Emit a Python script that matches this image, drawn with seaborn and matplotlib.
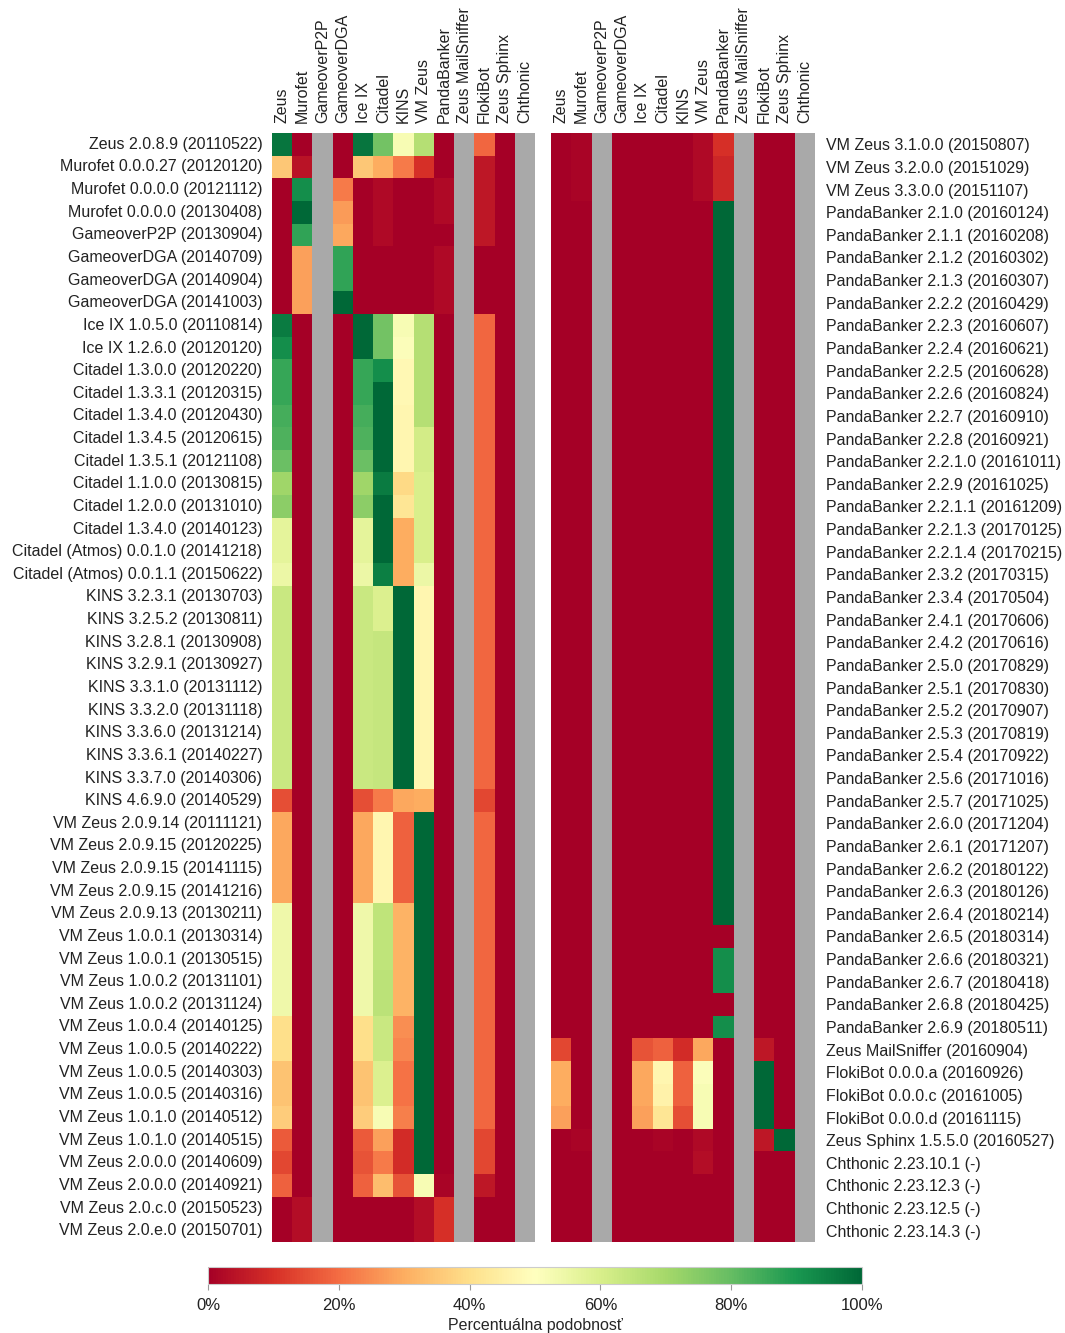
import numpy as np
import pandas as pd
import matplotlib
matplotlib.use("Agg")
import matplotlib.pyplot as plt
import seaborn as sns

sns.set_theme(style="white")
plt.rcParams["font.family"] = ["Liberation Sans", "DejaVu Sans"]
plt.rcParams["text.color"] = "#222222"
plt.rcParams["xtick.color"] = "#222222"
plt.rcParams["ytick.color"] = "#222222"

N = np.nan

families = ["Zeus", "Murofet", "GameoverP2P", "GameoverDGA", "Ice IX", "Citadel",
            "KINS", "VM Zeus", "PandaBanker", "Zeus MailSniffer", "FlokiBot",
            "Zeus Sphinx", "Chthonic"]

left_samples = [
    "Zeus 2.0.8.9 (20110522)", "Murofet 0.0.0.27 (20120120)", "Murofet 0.0.0.0 (20121112)",
    "Murofet 0.0.0.0 (20130408)", "GameoverP2P (20130904)", "GameoverDGA (20140709)",
    "GameoverDGA (20140904)", "GameoverDGA (20141003)", "Ice IX 1.0.5.0 (20110814)",
    "Ice IX 1.2.6.0 (20120120)", "Citadel 1.3.0.0 (20120220)", "Citadel 1.3.3.1 (20120315)",
    "Citadel 1.3.4.0 (20120430)", "Citadel 1.3.4.5 (20120615)", "Citadel 1.3.5.1 (20121108)",
    "Citadel 1.1.0.0 (20130815)", "Citadel 1.2.0.0 (20131010)", "Citadel 1.3.4.0 (20140123)",
    "Citadel (Atmos) 0.0.1.0 (20141218)", "Citadel (Atmos) 0.0.1.1 (20150622)",
    "KINS 3.2.3.1 (20130703)", "KINS 3.2.5.2 (20130811)", "KINS 3.2.8.1 (20130908)",
    "KINS 3.2.9.1 (20130927)", "KINS 3.3.1.0 (20131112)", "KINS 3.3.2.0 (20131118)",
    "KINS 3.3.6.0 (20131214)", "KINS 3.3.6.1 (20140227)", "KINS 3.3.7.0 (20140306)",
    "KINS 4.6.9.0 (20140529)", "VM Zeus 2.0.9.14 (20111121)", "VM Zeus 2.0.9.15 (20120225)",
    "VM Zeus 2.0.9.15 (20141115)", "VM Zeus 2.0.9.15 (20141216)", "VM Zeus 2.0.9.13 (20130211)",
    "VM Zeus 1.0.0.1 (20130314)", "VM Zeus 1.0.0.1 (20130515)", "VM Zeus 1.0.0.2 (20131101)",
    "VM Zeus 1.0.0.2 (20131124)", "VM Zeus 1.0.0.4 (20140125)", "VM Zeus 1.0.0.5 (20140222)",
    "VM Zeus 1.0.0.5 (20140303)", "VM Zeus 1.0.0.5 (20140316)", "VM Zeus 1.0.1.0 (20140512)",
    "VM Zeus 1.0.1.0 (20140515)", "VM Zeus 2.0.0.0 (20140609)", "VM Zeus 2.0.0.0 (20140921)",
    "VM Zeus 2.0.c.0 (20150523)", "VM Zeus 2.0.e.0 (20150701)",
]

right_samples = [
    "VM Zeus 3.1.0.0 (20150807)", "VM Zeus 3.2.0.0 (20151029)", "VM Zeus 3.3.0.0 (20151107)",
    "PandaBanker 2.1.0 (20160124)", "PandaBanker 2.1.1 (20160208)", "PandaBanker 2.1.2 (20160302)",
    "PandaBanker 2.1.3 (20160307)", "PandaBanker 2.2.2 (20160429)", "PandaBanker 2.2.3 (20160607)",
    "PandaBanker 2.2.4 (20160621)", "PandaBanker 2.2.5 (20160628)", "PandaBanker 2.2.6 (20160824)",
    "PandaBanker 2.2.7 (20160910)", "PandaBanker 2.2.8 (20160921)", "PandaBanker 2.2.1.0 (20161011)",
    "PandaBanker 2.2.9 (20161025)", "PandaBanker 2.2.1.1 (20161209)", "PandaBanker 2.2.1.3 (20170125)",
    "PandaBanker 2.2.1.4 (20170215)", "PandaBanker 2.3.2 (20170315)", "PandaBanker 2.3.4 (20170504)",
    "PandaBanker 2.4.1 (20170606)", "PandaBanker 2.4.2 (20170616)", "PandaBanker 2.5.0 (20170829)",
    "PandaBanker 2.5.1 (20170830)", "PandaBanker 2.5.2 (20170907)", "PandaBanker 2.5.3 (20170819)",
    "PandaBanker 2.5.4 (20170922)", "PandaBanker 2.5.6 (20171016)", "PandaBanker 2.5.7 (20171025)",
    "PandaBanker 2.6.0 (20171204)", "PandaBanker 2.6.1 (20171207)", "PandaBanker 2.6.2 (20180122)",
    "PandaBanker 2.6.3 (20180126)", "PandaBanker 2.6.4 (20180214)", "PandaBanker 2.6.5 (20180314)",
    "PandaBanker 2.6.6 (20180321)", "PandaBanker 2.6.7 (20180418)", "PandaBanker 2.6.8 (20180425)",
    "PandaBanker 2.6.9 (20180511)", "Zeus MailSniffer (20160904)", "FlokiBot 0.0.0.a (20160926)",
    "FlokiBot 0.0.0.c (20161005)", "FlokiBot 0.0.0.d (20161115)", "Zeus Sphinx 1.5.5.0 (20160527)",
    "Chthonic 2.23.10.1 (-)", "Chthonic 2.23.12.3 (-)", "Chthonic 2.23.12.5 (-)",
    "Chthonic 2.23.14.3 (-)",
]

# similarity in percent; NaN = family not evaluated (grey)
left_values = [
    [97, 0, N, 0, 97, 78, 52, 67, 0, N, 19, 0, N],
    [35, 4, N, 0, 35, 30, 22, 10, 0, N, 5, 0, N],
    [0, 92, N, 22, 0, 2, 0, 0, 2, N, 5, 0, N],
    [0, 100, N, 27, 0, 2, 0, 0, 2, N, 5, 0, N],
    [0, 87, N, 29, 0, 2, 0, 0, 0, N, 5, 0, N],
    [0, 28, N, 87, 0, 0, 0, 0, 2, N, 0, 0, N],
    [0, 28, N, 87, 0, 0, 0, 0, 2, N, 0, 0, N],
    [0, 28, N, 100, 0, 0, 0, 0, 2, N, 0, 0, N],
    [96, 0, N, 0, 100, 78, 52, 67, 0, N, 19, 0, N],
    [92, 0, N, 0, 100, 78, 51, 67, 0, N, 19, 0, N],
    [86, 0, N, 0, 86, 92, 48, 67, 0, N, 19, 0, N],
    [86, 0, N, 0, 86, 100, 48, 67, 0, N, 19, 0, N],
    [84, 0, N, 0, 84, 100, 47, 67, 0, N, 19, 0, N],
    [83, 0, N, 0, 83, 100, 47, 61, 0, N, 19, 0, N],
    [79, 0, N, 0, 79, 100, 47, 61, 0, N, 19, 0, N],
    [71, 0, N, 0, 71, 96, 39, 60, 0, N, 19, 0, N],
    [74, 0, N, 0, 74, 100, 42, 60, 0, N, 19, 0, N],
    [57, 0, N, 0, 57, 100, 30, 60, 0, N, 19, 0, N],
    [57, 0, N, 0, 57, 100, 30, 60, 0, N, 19, 0, N],
    [55, 0, N, 0, 55, 95, 30, 55, 0, N, 19, 0, N],
    [63, 0, N, 0, 63, 59, 100, 47, 0, N, 19, 0, N],
    [63, 0, N, 0, 63, 59, 100, 47, 0, N, 19, 0, N],
    [63, 0, N, 0, 63, 64, 100, 47, 0, N, 19, 0, N],
    [63, 0, N, 0, 63, 64, 100, 47, 0, N, 19, 0, N],
    [63, 0, N, 0, 63, 64, 100, 47, 0, N, 19, 0, N],
    [63, 0, N, 0, 63, 64, 100, 47, 0, N, 19, 0, N],
    [63, 0, N, 0, 63, 64, 100, 47, 0, N, 19, 0, N],
    [63, 0, N, 0, 63, 64, 100, 47, 0, N, 19, 0, N],
    [63, 0, N, 0, 63, 64, 100, 47, 0, N, 19, 0, N],
    [15, 0, N, 0, 15, 22, 29, 30, 0, N, 14, 0, N],
    [29, 0, N, 0, 29, 47, 18, 100, 0, N, 19, 0, N],
    [29, 0, N, 0, 29, 47, 18, 100, 0, N, 19, 0, N],
    [29, 0, N, 0, 29, 47, 18, 100, 0, N, 19, 0, N],
    [29, 0, N, 0, 29, 47, 18, 100, 0, N, 19, 0, N],
    [54, 0, N, 0, 54, 65, 31, 100, 0, N, 19, 0, N],
    [54, 0, N, 0, 54, 65, 31, 100, 0, N, 19, 0, N],
    [54, 0, N, 0, 54, 65, 31, 100, 0, N, 19, 0, N],
    [54, 0, N, 0, 54, 66, 31, 100, 0, N, 19, 0, N],
    [54, 0, N, 0, 54, 66, 31, 100, 0, N, 19, 0, N],
    [40, 0, N, 0, 40, 63, 25, 100, 0, N, 19, 0, N],
    [40, 0, N, 0, 40, 63, 24, 100, 0, N, 19, 0, N],
    [34, 0, N, 0, 34, 59, 21, 100, 0, N, 19, 0, N],
    [34, 0, N, 0, 34, 59, 21, 100, 0, N, 19, 0, N],
    [36, 0, N, 0, 36, 52, 23, 100, 0, N, 19, 0, N],
    [17, 0, N, 0, 17, 28, 9, 100, 0, N, 14, 0, N],
    [14, 0, N, 0, 16, 22, 9, 100, 0, N, 14, 0, N],
    [18, 0, N, 0, 18, 33, 16, 52, 1, N, 5, 0, N],
    [0, 3, N, 0, 0, 0, 0, 3, 10, N, 0, 0, N],
    [0, 3, N, 0, 0, 0, 0, 3, 10, N, 0, 0, N],
]

right_values = [
    [0, 1, N, 0, 0, 0, 0, 2, 10, N, 0, 0, N],
    [0, 1, N, 0, 0, 0, 0, 2, 8, N, 0, 0, N],
    [0, 1, N, 0, 0, 0, 0, 2, 8, N, 0, 0, N],
    [0, 0, N, 0, 0, 0, 0, 0, 100, N, 0, 0, N],
    [0, 0, N, 0, 0, 0, 0, 0, 100, N, 0, 0, N],
    [0, 0, N, 0, 0, 0, 0, 0, 100, N, 0, 0, N],
    [0, 0, N, 0, 0, 0, 0, 0, 100, N, 0, 0, N],
    [0, 0, N, 0, 0, 0, 0, 0, 100, N, 0, 0, N],
    [0, 0, N, 0, 0, 0, 0, 0, 100, N, 0, 0, N],
    [0, 0, N, 0, 0, 0, 0, 0, 100, N, 0, 0, N],
    [0, 0, N, 0, 0, 0, 0, 0, 100, N, 0, 0, N],
    [0, 0, N, 0, 0, 0, 0, 0, 100, N, 0, 0, N],
    [0, 0, N, 0, 0, 0, 0, 0, 100, N, 0, 0, N],
    [0, 0, N, 0, 0, 0, 0, 0, 100, N, 0, 0, N],
    [0, 0, N, 0, 0, 0, 0, 0, 100, N, 0, 0, N],
    [0, 0, N, 0, 0, 0, 0, 0, 100, N, 0, 0, N],
    [0, 0, N, 0, 0, 0, 0, 0, 100, N, 0, 0, N],
    [0, 0, N, 0, 0, 0, 0, 0, 100, N, 0, 0, N],
    [0, 0, N, 0, 0, 0, 0, 0, 100, N, 0, 0, N],
    [0, 0, N, 0, 0, 0, 0, 0, 100, N, 0, 0, N],
    [0, 0, N, 0, 0, 0, 0, 0, 100, N, 0, 0, N],
    [0, 0, N, 0, 0, 0, 0, 0, 100, N, 0, 0, N],
    [0, 0, N, 0, 0, 0, 0, 0, 100, N, 0, 0, N],
    [0, 0, N, 0, 0, 0, 0, 0, 100, N, 0, 0, N],
    [0, 0, N, 0, 0, 0, 0, 0, 100, N, 0, 0, N],
    [0, 0, N, 0, 0, 0, 0, 0, 100, N, 0, 0, N],
    [0, 0, N, 0, 0, 0, 0, 0, 100, N, 0, 0, N],
    [0, 0, N, 0, 0, 0, 0, 0, 100, N, 0, 0, N],
    [0, 0, N, 0, 0, 0, 0, 0, 100, N, 0, 0, N],
    [0, 0, N, 0, 0, 0, 0, 0, 100, N, 0, 0, N],
    [0, 0, N, 0, 0, 0, 0, 0, 100, N, 0, 0, N],
    [0, 0, N, 0, 0, 0, 0, 0, 100, N, 0, 0, N],
    [0, 0, N, 0, 0, 0, 0, 0, 100, N, 0, 0, N],
    [0, 0, N, 0, 0, 0, 0, 0, 100, N, 0, 0, N],
    [0, 0, N, 0, 0, 0, 0, 0, 100, N, 0, 0, N],
    [0, 0, N, 0, 0, 0, 0, 0, 0, N, 0, 0, N],
    [0, 0, N, 0, 0, 0, 0, 0, 92, N, 0, 0, N],
    [0, 0, N, 0, 0, 0, 0, 0, 92, N, 0, 0, N],
    [0, 0, N, 0, 0, 0, 0, 0, 0, N, 0, 0, N],
    [0, 0, N, 0, 0, 0, 0, 0, 92, N, 0, 0, N],
    [14, 0, N, 0, 16, 18, 9, 29, 0, N, 5, 0, N],
    [30, 0, N, 0, 29, 47, 18, 51, 0, N, 100, 0, N],
    [30, 0, N, 0, 29, 46, 18, 52, 0, N, 100, 0, N],
    [28, 0, N, 0, 28, 42, 15, 52, 0, N, 100, 0, N],
    [0, 1, N, 0, 0, 1, 0, 2, 0, N, 5, 100, N],
    [0, 0, N, 0, 0, 0, 0, 3, 0, N, 0, 0, N],
    [0, 0, N, 0, 0, 0, 0, 0, 0, N, 0, 0, N],
    [0, 0, N, 0, 0, 0, 0, 0, 0, N, 0, 0, N],
    [0, 0, N, 0, 0, 0, 0, 0, 0, N, 0, 0, N],
]

left_df = pd.DataFrame(left_values, index=left_samples, columns=families)
right_df = pd.DataFrame(right_values, index=right_samples, columns=families)

W, H = 1065, 1333
fig = plt.figure(figsize=(W / 100, H / 100), dpi=100)

def box(x0, y0, x1, y1):
    return [x0 / W, 1 - y1 / H, (x1 - x0) / W, (y1 - y0) / H]

ax_l = fig.add_axes(box(272, 133, 535, 1242))
ax_r = fig.add_axes(box(551, 133, 815, 1242))
cax = fig.add_axes(box(208, 1267, 862, 1284))

grey = "#a9a9a9"
label_size = 11.5

sns.heatmap(left_df, ax=ax_l, cmap="RdYlGn", vmin=0, vmax=100,
            cbar_ax=cax, cbar_kws={"orientation": "horizontal"},
            xticklabels=True, yticklabels=True)
sns.heatmap(right_df, ax=ax_r, cmap="RdYlGn", vmin=0, vmax=100,
            cbar=False, xticklabels=True, yticklabels=True)

for ax in (ax_l, ax_r):
    ax.set_facecolor(grey)
    ax.xaxis.tick_top()
    ax.set_xticklabels(families, rotation=90, fontsize=label_size)
    ax.tick_params(axis="both", length=0)
    ax.tick_params(axis="x", pad=7)
    ax.set_xlabel("")
    ax.set_ylabel("")

ax_l.set_yticklabels(left_samples, rotation=0, fontsize=label_size)
ax_l.tick_params(axis="y", pad=7)

ax_r.yaxis.tick_right()
ax_r.set_yticklabels(right_samples, rotation=0, fontsize=label_size)
ax_r.tick_params(axis="y", pad=8, length=0)

cb = ax_l.collections[0].colorbar
cb.set_ticks([0, 20, 40, 60, 80, 100])
cb.set_ticklabels(["0%", "20%", "40%", "60%", "80%", "100%"])
cb.ax.tick_params(labelsize=12, length=4, width=0.8, color="#999999", pad=6)
cb.outline.set_edgecolor("#cccccc")
cb.outline.set_linewidth(0.8)
cb.set_label("Percentuálna podobnosť", fontsize=11.5, labelpad=4)

fig.savefig("out.png", dpi=100)
